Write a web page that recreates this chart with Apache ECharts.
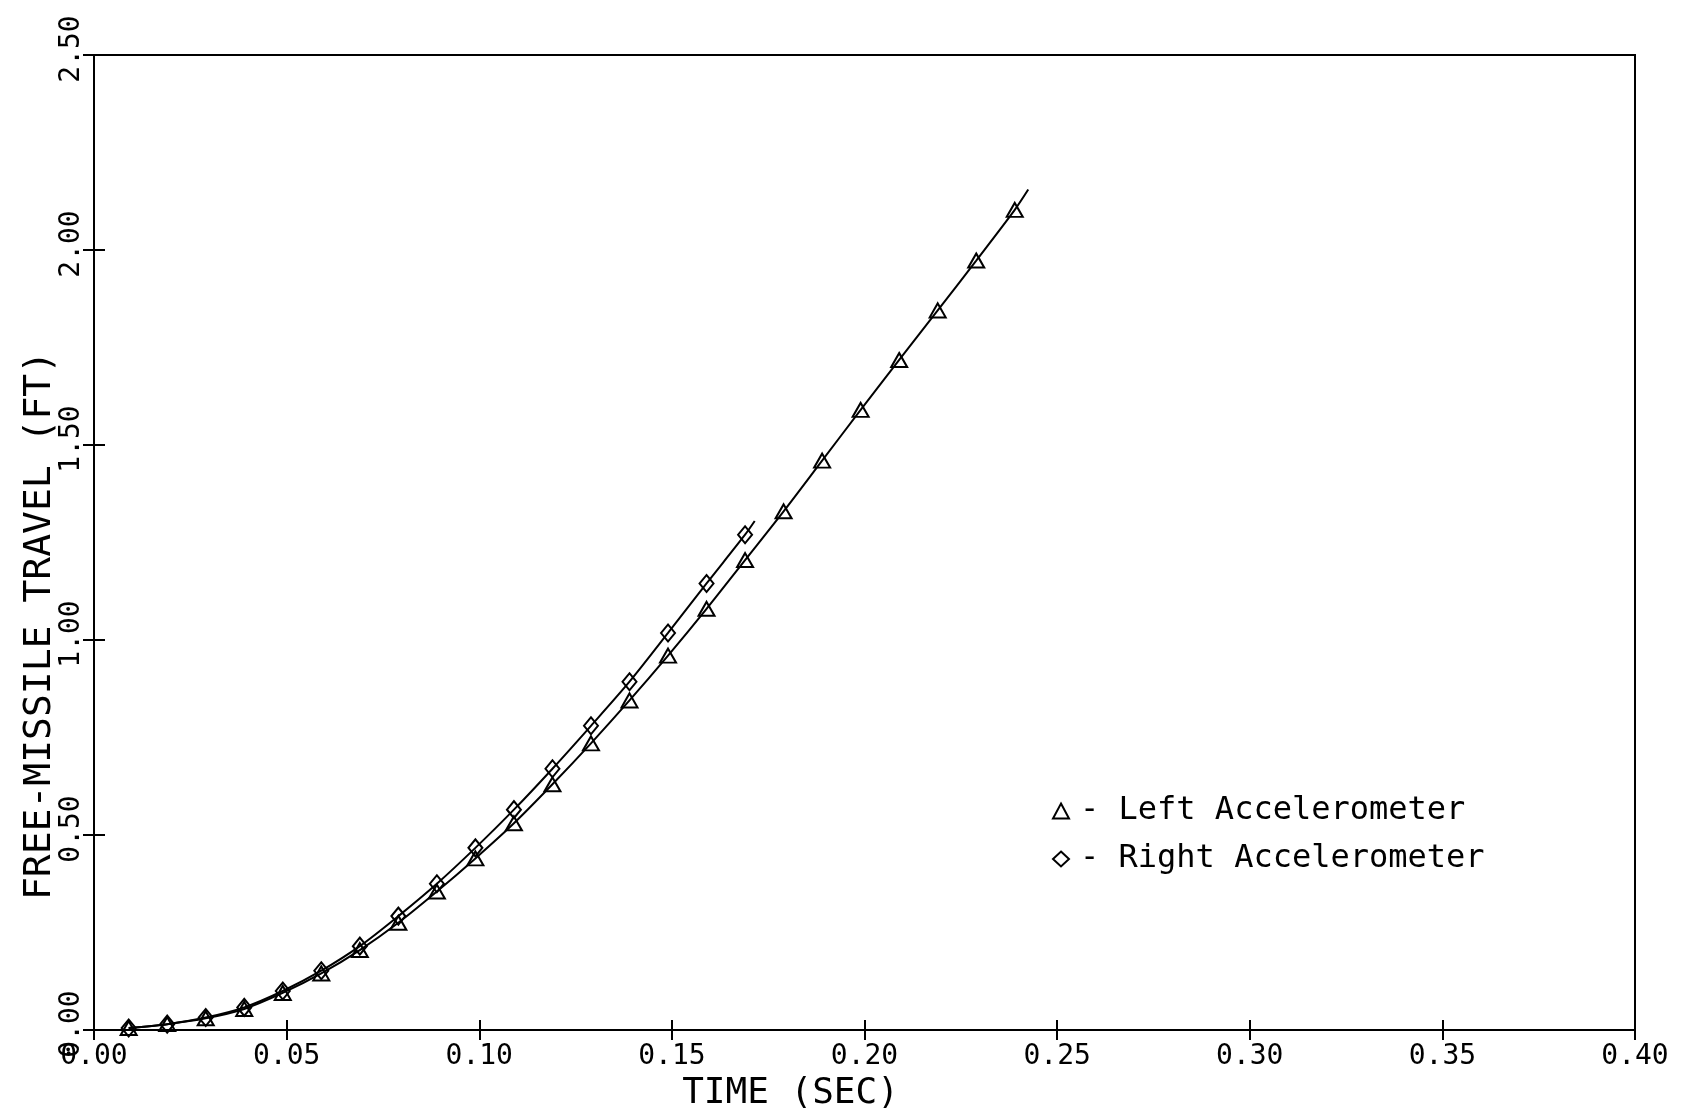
<!DOCTYPE html>
<html>
<head>
<meta charset="utf-8">
<script src="https://cdn.jsdelivr.net/npm/echarts@6/dist/echarts.min.js"></script>
<style>
html,body{margin:0;padding:0;background:#fff;}
#chart{width:1702px;height:1114px;}
</style>
</head>
<body>
<div id="chart"></div>
<script>
// Data
var xTicks = [0.00, 0.05, 0.10, 0.15, 0.20, 0.25, 0.30, 0.35, 0.40];
var yTicks = [0.00, 0.50, 1.00, 1.50, 2.00, 2.50];

var leftTime = [0.009, 0.019, 0.029, 0.039, 0.049, 0.059, 0.069, 0.079, 0.089, 0.099,
                0.109, 0.119, 0.129, 0.139, 0.149, 0.159, 0.169, 0.179, 0.189, 0.199,
                0.209, 0.219, 0.229, 0.239];
var leftTravel = [0.005, 0.015, 0.030, 0.054, 0.095, 0.145, 0.205, 0.275, 0.355, 0.440,
                  0.530, 0.630, 0.735, 0.845, 0.960, 1.080, 1.205, 1.330, 1.460, 1.590,
                  1.718, 1.845, 1.973, 2.103];
var leftCurveEnd = [0.2425, 2.155];

var rightTime = [0.009, 0.019, 0.029, 0.039, 0.049, 0.059, 0.069, 0.079, 0.089, 0.099,
                 0.109, 0.119, 0.129, 0.139, 0.149, 0.159, 0.169];
var rightTravel = [0.005, 0.015, 0.032, 0.058, 0.100, 0.152, 0.215, 0.292, 0.375, 0.467,
                   0.565, 0.670, 0.780, 0.893, 1.018, 1.145, 1.270];
var rightCurveEnd = [0.1715, 1.305];

var xName = 'TIME (SEC)';
var yName = 'FREE-MISSILE TRAVEL (FT)';
var leftName = 'Left Accelerometer';
var rightName = 'Right Accelerometer';

function buildSeriesData(ts, vs, end) {
  var d = ts.map(function (t, i) { return [t, vs[i]]; });
  d.push({ value: end, symbol: 'none' });
  return d;
}

var FONT = "'DejaVu Sans Mono', 'Liberation Mono', monospace";
var chart = echarts.init(document.getElementById('chart'), null, { renderer: 'canvas' });

var lineCommon = {
  type: 'line',
  smooth: 0.3,
  xAxisIndex: 0,
  yAxisIndex: 0,
  lineStyle: { color: '#000', width: 2 },
  itemStyle: { color: 'rgba(0,0,0,0)', borderColor: '#000', borderWidth: 2 },
  emphasis: { disabled: true },
  animation: false,
  z: 3
};

var option = {
  backgroundColor: '#fff',
  animation: false,
  grid: {
    left: 94, right: 67, top: 55, bottom: 84,
    outerBoundsMode: 'none',
    containLabel: false,
    show: true, borderColor: '#000', borderWidth: 2, backgroundColor: 'transparent'
  },
  legend: {
    orient: 'vertical',
    left: 1047,
    top: 790,
    itemWidth: 16,
    itemHeight: 15,
    itemGap: 16,
    formatter: '- {name}',
    textStyle: { fontFamily: FONT, fontSize: 32, color: '#000', lineHeight: 32, padding: [0, 0, 0, 6] },
    data: [
      { name: leftName, icon: 'triangle' },
      { name: rightName, icon: 'diamond' }
    ],
    selectedMode: false
  },
  xAxis: [
    {
      type: 'value', min: 0, max: 0.4, interval: 0.05,
      name: xName, nameLocation: 'middle', nameGap: 46, nameMoveOverlap: false,
      nameTextStyle: { fontFamily: FONT, fontSize: 36, color: '#000', padding: [0, 148, 0, 0] },
      axisLine: { show: true, onZero: false, lineStyle: { color: '#000', width: 2 } },
      axisTick: { show: true, inside: false, length: 10, lineStyle: { color: '#000', width: 2 } },
      axisLabel: {
        fontFamily: FONT, fontSize: 28, color: '#000', margin: 13,
        formatter: function (v) { return v.toFixed(2); }
      },
      splitLine: { show: false }
    },
    {
      type: 'value', min: 0, max: 0.4, interval: 0.05, position: 'bottom',
      axisLine: { show: false },
      axisTick: { show: true, inside: true, length: 10, lineStyle: { color: '#000', width: 2 } },
      axisLabel: { show: false },
      splitLine: { show: false }
    }
  ],
  yAxis: [
    {
      type: 'value', min: 0, max: 2.5, interval: 0.5,
      name: yName, nameLocation: 'middle', nameGap: 35, nameMoveOverlap: false,
      nameTextStyle: { fontFamily: FONT, fontSize: 38, color: '#000', padding: [0, 166, 0, 0] },
      axisLine: { show: true, onZero: false, lineStyle: { color: '#000', width: 2 } },
      axisTick: { show: true, inside: false, length: 11, lineStyle: { color: '#000', width: 2 } },
      axisLabel: {
        fontFamily: FONT, fontSize: 28, color: '#000', margin: 8, rotate: 90,
        padding: [0, 0, 0, 12],
        formatter: function (v) { return v.toFixed(2); }
      },
      splitLine: { show: false }
    },
    {
      type: 'value', min: 0, max: 2.5, interval: 0.5, position: 'left',
      axisLine: { show: false },
      axisTick: { show: true, inside: true, length: 11, lineStyle: { color: '#000', width: 2 } },
      axisLabel: { show: false },
      splitLine: { show: false }
    }
  ],
  series: [
    Object.assign({}, lineCommon, {
      name: leftName,
      symbol: 'triangle',
      symbolSize: [16, 14],
      data: buildSeriesData(leftTime, leftTravel, leftCurveEnd)
    }),
    Object.assign({}, lineCommon, {
      name: rightName,
      symbol: 'diamond',
      symbolSize: [14, 17],
      data: buildSeriesData(rightTime, rightTravel, rightCurveEnd)
    })
  ]
};
chart.setOption(option);
</script>
</body>
</html>
